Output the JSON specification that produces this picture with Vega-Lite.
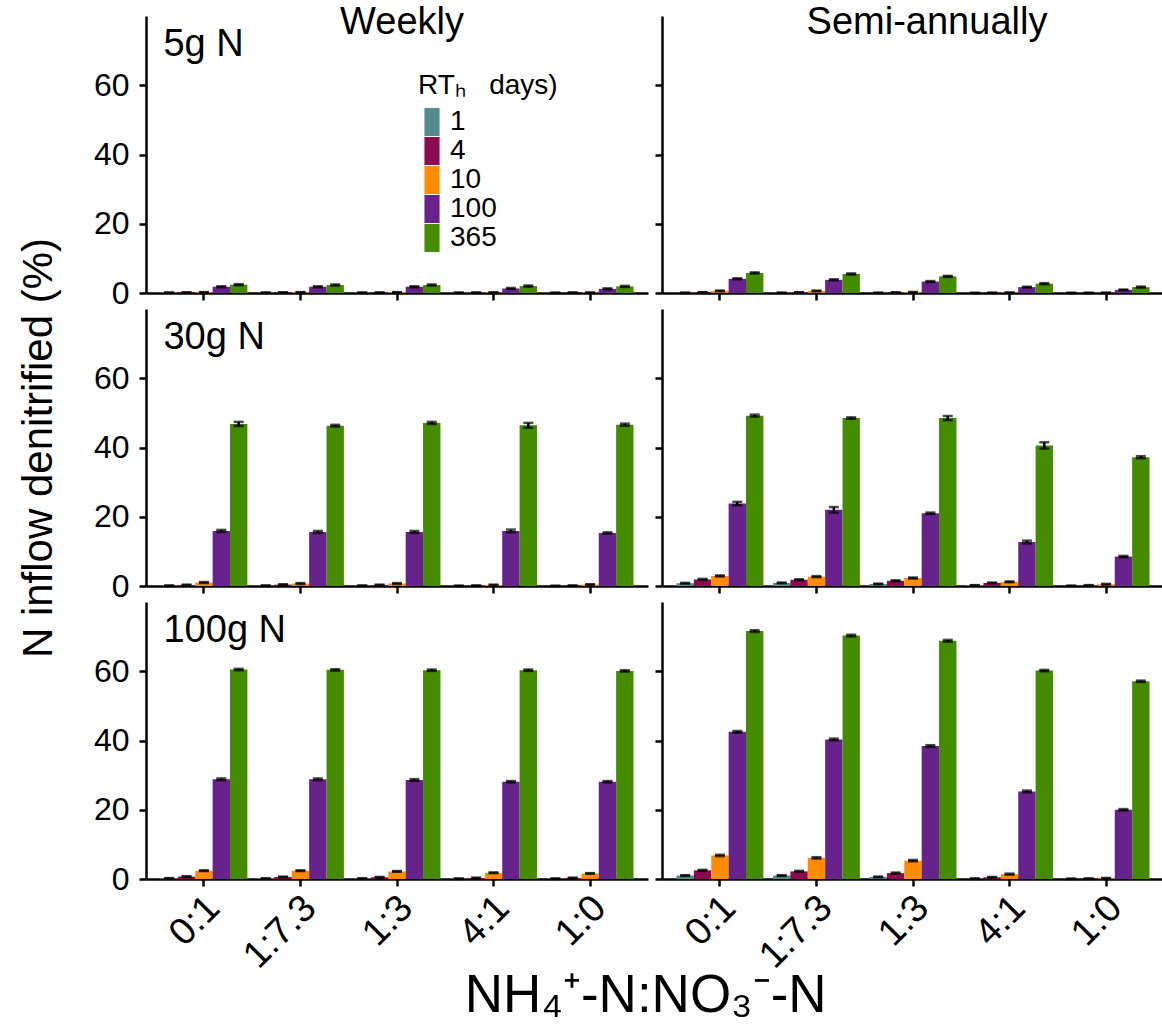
{
  "$schema": "https://vega.github.io/schema/vega-lite/v6.json",
  "padding": {"left": 17, "top": 4, "right": 0, "bottom": 0},
  "background": "white",
  "bounds": "flush",
  "title": {"text": "NH₄⁺-N:NO₃⁻-N", "orient": "bottom", "anchor": "middle", "fontSize": 53, "fontWeight": "normal", "font": "Liberation Sans", "color": "black", "offset": -5, "dx": 55},
  "data": {"values": [
    {"load":"5g N","freq":"Weekly","ratio":"0:1","rt":1,"value":0.1,"err":0.03},
    {"load":"5g N","freq":"Weekly","ratio":"0:1","rt":4,"value":0.15,"err":0.05},
    {"load":"5g N","freq":"Weekly","ratio":"0:1","rt":10,"value":0.2,"err":0.05},
    {"load":"5g N","freq":"Weekly","ratio":"0:1","rt":100,"value":1.8,"err":0.15},
    {"load":"5g N","freq":"Weekly","ratio":"0:1","rt":365,"value":2.4,"err":0.15},
    {"load":"5g N","freq":"Weekly","ratio":"1:7.3","rt":1,"value":0.1,"err":0.03},
    {"load":"5g N","freq":"Weekly","ratio":"1:7.3","rt":4,"value":0.15,"err":0.05},
    {"load":"5g N","freq":"Weekly","ratio":"1:7.3","rt":10,"value":0.2,"err":0.05},
    {"load":"5g N","freq":"Weekly","ratio":"1:7.3","rt":100,"value":1.8,"err":0.15},
    {"load":"5g N","freq":"Weekly","ratio":"1:7.3","rt":365,"value":2.3,"err":0.15},
    {"load":"5g N","freq":"Weekly","ratio":"1:3","rt":1,"value":0.1,"err":0.03},
    {"load":"5g N","freq":"Weekly","ratio":"1:3","rt":4,"value":0.12,"err":0.05},
    {"load":"5g N","freq":"Weekly","ratio":"1:3","rt":10,"value":0.2,"err":0.05},
    {"load":"5g N","freq":"Weekly","ratio":"1:3","rt":100,"value":1.8,"err":0.15},
    {"load":"5g N","freq":"Weekly","ratio":"1:3","rt":365,"value":2.3,"err":0.15},
    {"load":"5g N","freq":"Weekly","ratio":"4:1","rt":1,"value":0.08,"err":0.03},
    {"load":"5g N","freq":"Weekly","ratio":"4:1","rt":4,"value":0.1,"err":0.05},
    {"load":"5g N","freq":"Weekly","ratio":"4:1","rt":10,"value":0.15,"err":0.05},
    {"load":"5g N","freq":"Weekly","ratio":"4:1","rt":100,"value":1.3,"err":0.15},
    {"load":"5g N","freq":"Weekly","ratio":"4:1","rt":365,"value":2.0,"err":0.15},
    {"load":"5g N","freq":"Weekly","ratio":"1:0","rt":1,"value":0.05,"err":0.03},
    {"load":"5g N","freq":"Weekly","ratio":"1:0","rt":4,"value":0.1,"err":0.05},
    {"load":"5g N","freq":"Weekly","ratio":"1:0","rt":10,"value":0.1,"err":0.05},
    {"load":"5g N","freq":"Weekly","ratio":"1:0","rt":100,"value":1.2,"err":0.15},
    {"load":"5g N","freq":"Weekly","ratio":"1:0","rt":365,"value":1.9,"err":0.15},
    {"load":"5g N","freq":"Semi-annually","ratio":"0:1","rt":1,"value":0.05,"err":0.02},
    {"load":"5g N","freq":"Semi-annually","ratio":"0:1","rt":4,"value":0.2,"err":0.05},
    {"load":"5g N","freq":"Semi-annually","ratio":"0:1","rt":10,"value":0.6,"err":0.1},
    {"load":"5g N","freq":"Semi-annually","ratio":"0:1","rt":100,"value":4.1,"err":0.15},
    {"load":"5g N","freq":"Semi-annually","ratio":"0:1","rt":365,"value":5.8,"err":0.15},
    {"load":"5g N","freq":"Semi-annually","ratio":"1:7.3","rt":1,"value":0.05,"err":0.02},
    {"load":"5g N","freq":"Semi-annually","ratio":"1:7.3","rt":4,"value":0.2,"err":0.05},
    {"load":"5g N","freq":"Semi-annually","ratio":"1:7.3","rt":10,"value":0.6,"err":0.1},
    {"load":"5g N","freq":"Semi-annually","ratio":"1:7.3","rt":100,"value":3.8,"err":0.15},
    {"load":"5g N","freq":"Semi-annually","ratio":"1:7.3","rt":365,"value":5.5,"err":0.15},
    {"load":"5g N","freq":"Semi-annually","ratio":"1:3","rt":1,"value":0.05,"err":0.02},
    {"load":"5g N","freq":"Semi-annually","ratio":"1:3","rt":4,"value":0.15,"err":0.05},
    {"load":"5g N","freq":"Semi-annually","ratio":"1:3","rt":10,"value":0.2,"err":0.1},
    {"load":"5g N","freq":"Semi-annually","ratio":"1:3","rt":100,"value":3.3,"err":0.15},
    {"load":"5g N","freq":"Semi-annually","ratio":"1:3","rt":365,"value":4.8,"err":0.15},
    {"load":"5g N","freq":"Semi-annually","ratio":"4:1","rt":1,"value":0.02,"err":0.02},
    {"load":"5g N","freq":"Semi-annually","ratio":"4:1","rt":4,"value":0.05,"err":0.03},
    {"load":"5g N","freq":"Semi-annually","ratio":"4:1","rt":10,"value":0.1,"err":0.05},
    {"load":"5g N","freq":"Semi-annually","ratio":"4:1","rt":100,"value":1.7,"err":0.1},
    {"load":"5g N","freq":"Semi-annually","ratio":"4:1","rt":365,"value":2.7,"err":0.15},
    {"load":"5g N","freq":"Semi-annually","ratio":"1:0","rt":1,"value":0.02,"err":0.02},
    {"load":"5g N","freq":"Semi-annually","ratio":"1:0","rt":4,"value":0.03,"err":0.02},
    {"load":"5g N","freq":"Semi-annually","ratio":"1:0","rt":10,"value":0.05,"err":0.03},
    {"load":"5g N","freq":"Semi-annually","ratio":"1:0","rt":100,"value":0.9,"err":0.1},
    {"load":"5g N","freq":"Semi-annually","ratio":"1:0","rt":365,"value":1.7,"err":0.15},
    {"load":"30g N","freq":"Weekly","ratio":"0:1","rt":1,"value":0.1,"err":0.05},
    {"load":"30g N","freq":"Weekly","ratio":"0:1","rt":4,"value":0.3,"err":0.1},
    {"load":"30g N","freq":"Weekly","ratio":"0:1","rt":10,"value":1.0,"err":0.15},
    {"load":"30g N","freq":"Weekly","ratio":"0:1","rt":100,"value":15.9,"err":0.3},
    {"load":"30g N","freq":"Weekly","ratio":"0:1","rt":365,"value":46.8,"err":0.6},
    {"load":"30g N","freq":"Weekly","ratio":"1:7.3","rt":1,"value":0.1,"err":0.05},
    {"load":"30g N","freq":"Weekly","ratio":"1:7.3","rt":4,"value":0.4,"err":0.1},
    {"load":"30g N","freq":"Weekly","ratio":"1:7.3","rt":10,"value":0.7,"err":0.15},
    {"load":"30g N","freq":"Weekly","ratio":"1:7.3","rt":100,"value":15.6,"err":0.3},
    {"load":"30g N","freq":"Weekly","ratio":"1:7.3","rt":365,"value":46.3,"err":0.25},
    {"load":"30g N","freq":"Weekly","ratio":"1:3","rt":1,"value":0.1,"err":0.05},
    {"load":"30g N","freq":"Weekly","ratio":"1:3","rt":4,"value":0.3,"err":0.1},
    {"load":"30g N","freq":"Weekly","ratio":"1:3","rt":10,"value":0.7,"err":0.15},
    {"load":"30g N","freq":"Weekly","ratio":"1:3","rt":100,"value":15.6,"err":0.3},
    {"load":"30g N","freq":"Weekly","ratio":"1:3","rt":365,"value":47.1,"err":0.3},
    {"load":"30g N","freq":"Weekly","ratio":"4:1","rt":1,"value":0.05,"err":0.05},
    {"load":"30g N","freq":"Weekly","ratio":"4:1","rt":4,"value":0.1,"err":0.05},
    {"load":"30g N","freq":"Weekly","ratio":"4:1","rt":10,"value":0.3,"err":0.1},
    {"load":"30g N","freq":"Weekly","ratio":"4:1","rt":100,"value":15.9,"err":0.4},
    {"load":"30g N","freq":"Weekly","ratio":"4:1","rt":365,"value":46.4,"err":0.7},
    {"load":"30g N","freq":"Weekly","ratio":"1:0","rt":1,"value":0.03,"err":0.03},
    {"load":"30g N","freq":"Weekly","ratio":"1:0","rt":4,"value":0.1,"err":0.05},
    {"load":"30g N","freq":"Weekly","ratio":"1:0","rt":10,"value":0.4,"err":0.1},
    {"load":"30g N","freq":"Weekly","ratio":"1:0","rt":100,"value":15.3,"err":0.2},
    {"load":"30g N","freq":"Weekly","ratio":"1:0","rt":365,"value":46.6,"err":0.3},
    {"load":"30g N","freq":"Semi-annually","ratio":"0:1","rt":1,"value":0.8,"err":0.1},
    {"load":"30g N","freq":"Semi-annually","ratio":"0:1","rt":4,"value":1.9,"err":0.15},
    {"load":"30g N","freq":"Semi-annually","ratio":"0:1","rt":10,"value":2.9,"err":0.15},
    {"load":"30g N","freq":"Semi-annually","ratio":"0:1","rt":100,"value":23.8,"err":0.5},
    {"load":"30g N","freq":"Semi-annually","ratio":"0:1","rt":365,"value":49.2,"err":0.3},
    {"load":"30g N","freq":"Semi-annually","ratio":"1:7.3","rt":1,"value":0.9,"err":0.1},
    {"load":"30g N","freq":"Semi-annually","ratio":"1:7.3","rt":4,"value":1.8,"err":0.15},
    {"load":"30g N","freq":"Semi-annually","ratio":"1:7.3","rt":10,"value":2.7,"err":0.15},
    {"load":"30g N","freq":"Semi-annually","ratio":"1:7.3","rt":100,"value":22.0,"err":0.8},
    {"load":"30g N","freq":"Semi-annually","ratio":"1:7.3","rt":365,"value":48.5,"err":0.2},
    {"load":"30g N","freq":"Semi-annually","ratio":"1:3","rt":1,"value":0.6,"err":0.1},
    {"load":"30g N","freq":"Semi-annually","ratio":"1:3","rt":4,"value":1.5,"err":0.15},
    {"load":"30g N","freq":"Semi-annually","ratio":"1:3","rt":10,"value":2.3,"err":0.15},
    {"load":"30g N","freq":"Semi-annually","ratio":"1:3","rt":100,"value":21.0,"err":0.2},
    {"load":"30g N","freq":"Semi-annually","ratio":"1:3","rt":365,"value":48.5,"err":0.6},
    {"load":"30g N","freq":"Semi-annually","ratio":"4:1","rt":1,"value":0.2,"err":0.05},
    {"load":"30g N","freq":"Semi-annually","ratio":"4:1","rt":4,"value":0.9,"err":0.1},
    {"load":"30g N","freq":"Semi-annually","ratio":"4:1","rt":10,"value":1.2,"err":0.1},
    {"load":"30g N","freq":"Semi-annually","ratio":"4:1","rt":100,"value":12.7,"err":0.4},
    {"load":"30g N","freq":"Semi-annually","ratio":"4:1","rt":365,"value":40.6,"err":0.9},
    {"load":"30g N","freq":"Semi-annually","ratio":"1:0","rt":1,"value":0.05,"err":0.03},
    {"load":"30g N","freq":"Semi-annually","ratio":"1:0","rt":4,"value":0.2,"err":0.05},
    {"load":"30g N","freq":"Semi-annually","ratio":"1:0","rt":10,"value":0.5,"err":0.1},
    {"load":"30g N","freq":"Semi-annually","ratio":"1:0","rt":100,"value":8.5,"err":0.2},
    {"load":"30g N","freq":"Semi-annually","ratio":"1:0","rt":365,"value":37.2,"err":0.3},
    {"load":"100g N","freq":"Weekly","ratio":"0:1","rt":1,"value":0.2,"err":0.05},
    {"load":"100g N","freq":"Weekly","ratio":"0:1","rt":4,"value":0.7,"err":0.1},
    {"load":"100g N","freq":"Weekly","ratio":"0:1","rt":10,"value":2.4,"err":0.1},
    {"load":"100g N","freq":"Weekly","ratio":"0:1","rt":100,"value":28.8,"err":0.25},
    {"load":"100g N","freq":"Weekly","ratio":"0:1","rt":365,"value":60.5,"err":0.2},
    {"load":"100g N","freq":"Weekly","ratio":"1:7.3","rt":1,"value":0.15,"err":0.05},
    {"load":"100g N","freq":"Weekly","ratio":"1:7.3","rt":4,"value":0.6,"err":0.1},
    {"load":"100g N","freq":"Weekly","ratio":"1:7.3","rt":10,"value":2.4,"err":0.1},
    {"load":"100g N","freq":"Weekly","ratio":"1:7.3","rt":100,"value":28.8,"err":0.25},
    {"load":"100g N","freq":"Weekly","ratio":"1:7.3","rt":365,"value":60.4,"err":0.2},
    {"load":"100g N","freq":"Weekly","ratio":"1:3","rt":1,"value":0.15,"err":0.05},
    {"load":"100g N","freq":"Weekly","ratio":"1:3","rt":4,"value":0.5,"err":0.1},
    {"load":"100g N","freq":"Weekly","ratio":"1:3","rt":10,"value":2.2,"err":0.1},
    {"load":"100g N","freq":"Weekly","ratio":"1:3","rt":100,"value":28.6,"err":0.25},
    {"load":"100g N","freq":"Weekly","ratio":"1:3","rt":365,"value":60.3,"err":0.2},
    {"load":"100g N","freq":"Weekly","ratio":"4:1","rt":1,"value":0.1,"err":0.05},
    {"load":"100g N","freq":"Weekly","ratio":"4:1","rt":4,"value":0.3,"err":0.1},
    {"load":"100g N","freq":"Weekly","ratio":"4:1","rt":10,"value":1.8,"err":0.1},
    {"load":"100g N","freq":"Weekly","ratio":"4:1","rt":100,"value":28.1,"err":0.2},
    {"load":"100g N","freq":"Weekly","ratio":"4:1","rt":365,"value":60.3,"err":0.2},
    {"load":"100g N","freq":"Weekly","ratio":"1:0","rt":1,"value":0.1,"err":0.05},
    {"load":"100g N","freq":"Weekly","ratio":"1:0","rt":4,"value":0.3,"err":0.1},
    {"load":"100g N","freq":"Weekly","ratio":"1:0","rt":10,"value":1.6,"err":0.1},
    {"load":"100g N","freq":"Weekly","ratio":"1:0","rt":100,"value":28.1,"err":0.2},
    {"load":"100g N","freq":"Weekly","ratio":"1:0","rt":365,"value":60.1,"err":0.2},
    {"load":"100g N","freq":"Semi-annually","ratio":"0:1","rt":1,"value":1.0,"err":0.1},
    {"load":"100g N","freq":"Semi-annually","ratio":"0:1","rt":4,"value":2.5,"err":0.15},
    {"load":"100g N","freq":"Semi-annually","ratio":"0:1","rt":10,"value":6.8,"err":0.2},
    {"load":"100g N","freq":"Semi-annually","ratio":"0:1","rt":100,"value":42.5,"err":0.25},
    {"load":"100g N","freq":"Semi-annually","ratio":"0:1","rt":365,"value":71.6,"err":0.25},
    {"load":"100g N","freq":"Semi-annually","ratio":"1:7.3","rt":1,"value":1.0,"err":0.1},
    {"load":"100g N","freq":"Semi-annually","ratio":"1:7.3","rt":4,"value":2.2,"err":0.15},
    {"load":"100g N","freq":"Semi-annually","ratio":"1:7.3","rt":10,"value":6.1,"err":0.2},
    {"load":"100g N","freq":"Semi-annually","ratio":"1:7.3","rt":100,"value":40.3,"err":0.25},
    {"load":"100g N","freq":"Semi-annually","ratio":"1:7.3","rt":365,"value":70.3,"err":0.25},
    {"load":"100g N","freq":"Semi-annually","ratio":"1:3","rt":1,"value":0.6,"err":0.1},
    {"load":"100g N","freq":"Semi-annually","ratio":"1:3","rt":4,"value":1.7,"err":0.15},
    {"load":"100g N","freq":"Semi-annually","ratio":"1:3","rt":10,"value":5.3,"err":0.2},
    {"load":"100g N","freq":"Semi-annually","ratio":"1:3","rt":100,"value":38.4,"err":0.25},
    {"load":"100g N","freq":"Semi-annually","ratio":"1:3","rt":365,"value":68.8,"err":0.25},
    {"load":"100g N","freq":"Semi-annually","ratio":"4:1","rt":1,"value":0.1,"err":0.05},
    {"load":"100g N","freq":"Semi-annually","ratio":"4:1","rt":4,"value":0.5,"err":0.1},
    {"load":"100g N","freq":"Semi-annually","ratio":"4:1","rt":10,"value":1.4,"err":0.15},
    {"load":"100g N","freq":"Semi-annually","ratio":"4:1","rt":100,"value":25.3,"err":0.25},
    {"load":"100g N","freq":"Semi-annually","ratio":"4:1","rt":365,"value":60.2,"err":0.2},
    {"load":"100g N","freq":"Semi-annually","ratio":"1:0","rt":1,"value":0.05,"err":0.03},
    {"load":"100g N","freq":"Semi-annually","ratio":"1:0","rt":4,"value":0.1,"err":0.05},
    {"load":"100g N","freq":"Semi-annually","ratio":"1:0","rt":10,"value":0.2,"err":0.1},
    {"load":"100g N","freq":"Semi-annually","ratio":"1:0","rt":100,"value":20.0,"err":0.2},
    {"load":"100g N","freq":"Semi-annually","ratio":"1:0","rt":365,"value":57.1,"err":0.2}
  ]},
  "columns": 2,
  "spacing": {"row": 16, "column": 14},
  "concat": [
    {
      "width": 502, "height": 277,
      "title": {"text": "Weekly", "fontSize": 38, "fontWeight": "normal", "font": "Liberation Sans", "color": "black", "baseline": "alphabetic", "offset": -13, "dy": 43, "dx": 5},
      "transform": [{"filter": "datum.load === '5g N' && datum.freq === 'Weekly'"}],
      "encoding": {
        "x": {"field": "ratio", "type": "nominal", "sort": ["0:1","1:7.3","1:3","4:1","1:0"], "scale": {"paddingInner": 0.1, "paddingOuter": 0.15}, "axis": {"title": null, "labels": false}},
        "y": {"field": "value", "type": "quantitative", "scale": {"domain": [0, 80], "nice": false}, "axis": {"values": [0, 20, 40, 60], "title": null}}
      },
      "layer": [
        {"mark": {"type": "bar"}, "encoding": {"xOffset": {"field": "rt", "type": "ordinal", "sort": [1,4,10,100,365], "scale": {"paddingInner": 0, "paddingOuter": 0}}, "color": {"field": "rt", "type": "ordinal", "scale": {"domain": [1,4,10,100,365], "range": ["#528B8B","#8B0A50","#FF8C00","#68228B","#458B00"]}, "legend": {"title": "RTₕ\u00a0\u00a0\u00a0days)", "orient": "none", "legendX": 272, "legendY": 56}}}},
        {"mark": {"type": "errorbar", "ticks": {"size": 10}, "thickness": 2.5, "color": "black"}, "encoding": {"xOffset": {"field": "rt", "type": "ordinal", "sort": [1,4,10,100,365], "scale": {"paddingInner": 0, "paddingOuter": 0}}, "yError": {"field": "err"}}},
        {"transform": [{"filter": "datum.rt === 1 && datum.ratio === '0:1'"}], "mark": {"type": "text", "align": "left", "baseline": "middle", "dx": 3, "fontSize": 38, "font": "Liberation Sans", "color": "black"}, "encoding": {"x": {"field": "ratio", "type": "nominal", "sort": ["0:1","1:7.3","1:3","4:1","1:0"], "bandPosition": 0}, "y": {"datum": 71.5}, "text": {"field": "load"}}}
      ]
    },
    {
      "width": 502, "height": 277,
      "title": {"text": "Semi-annually", "fontSize": 38, "fontWeight": "normal", "font": "Liberation Sans", "color": "black", "baseline": "alphabetic", "offset": -13, "dy": 43, "dx": 14},
      "transform": [{"filter": "datum.load === '5g N' && datum.freq === 'Semi-annually'"}],
      "encoding": {
        "x": {"field": "ratio", "type": "nominal", "sort": ["0:1","1:7.3","1:3","4:1","1:0"], "scale": {"paddingInner": 0.1, "paddingOuter": 0.15}, "axis": {"title": null, "labels": false}},
        "y": {"field": "value", "type": "quantitative", "scale": {"domain": [0, 80], "nice": false}, "axis": {"values": [0, 20, 40, 60], "title": null, "labels": false}}
      },
      "layer": [
        {"mark": {"type": "bar"}, "encoding": {"xOffset": {"field": "rt", "type": "ordinal", "sort": [1,4,10,100,365], "scale": {"paddingInner": 0, "paddingOuter": 0}}, "color": {"field": "rt", "type": "ordinal", "scale": {"domain": [1,4,10,100,365], "range": ["#528B8B","#8B0A50","#FF8C00","#68228B","#458B00"]}, "legend": {"title": "RTₕ\u00a0\u00a0\u00a0days)", "orient": "none", "legendX": 272, "legendY": 56}}}},
        {"mark": {"type": "errorbar", "ticks": {"size": 10}, "thickness": 2.5, "color": "black"}, "encoding": {"xOffset": {"field": "rt", "type": "ordinal", "sort": [1,4,10,100,365], "scale": {"paddingInner": 0, "paddingOuter": 0}}, "yError": {"field": "err"}}}
      ]
    },
    {
      "width": 502, "height": 277,
      "transform": [{"filter": "datum.load === '30g N' && datum.freq === 'Weekly'"}],
      "encoding": {
        "x": {"field": "ratio", "type": "nominal", "sort": ["0:1","1:7.3","1:3","4:1","1:0"], "scale": {"paddingInner": 0.1, "paddingOuter": 0.15}, "axis": {"title": null, "labels": false}},
        "y": {"field": "value", "type": "quantitative", "scale": {"domain": [0, 80], "nice": false}, "axis": {"values": [0, 20, 40, 60], "title": "N inflow denitrified (%)"}}
      },
      "layer": [
        {"mark": {"type": "bar"}, "encoding": {"xOffset": {"field": "rt", "type": "ordinal", "sort": [1,4,10,100,365], "scale": {"paddingInner": 0, "paddingOuter": 0}}, "color": {"field": "rt", "type": "ordinal", "scale": {"domain": [1,4,10,100,365], "range": ["#528B8B","#8B0A50","#FF8C00","#68228B","#458B00"]}, "legend": {"title": "RTₕ\u00a0\u00a0\u00a0days)", "orient": "none", "legendX": 272, "legendY": 56}}}},
        {"mark": {"type": "errorbar", "ticks": {"size": 10}, "thickness": 2.5, "color": "black"}, "encoding": {"xOffset": {"field": "rt", "type": "ordinal", "sort": [1,4,10,100,365], "scale": {"paddingInner": 0, "paddingOuter": 0}}, "yError": {"field": "err"}}},
        {"transform": [{"filter": "datum.rt === 1 && datum.ratio === '0:1'"}], "mark": {"type": "text", "align": "left", "baseline": "middle", "dx": 3, "fontSize": 38, "font": "Liberation Sans", "color": "black"}, "encoding": {"x": {"field": "ratio", "type": "nominal", "sort": ["0:1","1:7.3","1:3","4:1","1:0"], "bandPosition": 0}, "y": {"datum": 71.5}, "text": {"field": "load"}}}
      ]
    },
    {
      "width": 502, "height": 277,
      "transform": [{"filter": "datum.load === '30g N' && datum.freq === 'Semi-annually'"}],
      "encoding": {
        "x": {"field": "ratio", "type": "nominal", "sort": ["0:1","1:7.3","1:3","4:1","1:0"], "scale": {"paddingInner": 0.1, "paddingOuter": 0.15}, "axis": {"title": null, "labels": false}},
        "y": {"field": "value", "type": "quantitative", "scale": {"domain": [0, 80], "nice": false}, "axis": {"values": [0, 20, 40, 60], "title": null, "labels": false}}
      },
      "layer": [
        {"mark": {"type": "bar"}, "encoding": {"xOffset": {"field": "rt", "type": "ordinal", "sort": [1,4,10,100,365], "scale": {"paddingInner": 0, "paddingOuter": 0}}, "color": {"field": "rt", "type": "ordinal", "scale": {"domain": [1,4,10,100,365], "range": ["#528B8B","#8B0A50","#FF8C00","#68228B","#458B00"]}, "legend": {"title": "RTₕ\u00a0\u00a0\u00a0days)", "orient": "none", "legendX": 272, "legendY": 56}}}},
        {"mark": {"type": "errorbar", "ticks": {"size": 10}, "thickness": 2.5, "color": "black"}, "encoding": {"xOffset": {"field": "rt", "type": "ordinal", "sort": [1,4,10,100,365], "scale": {"paddingInner": 0, "paddingOuter": 0}}, "yError": {"field": "err"}}}
      ]
    },
    {
      "width": 502, "height": 277,
      "transform": [{"filter": "datum.load === '100g N' && datum.freq === 'Weekly'"}],
      "encoding": {
        "x": {"field": "ratio", "type": "nominal", "sort": ["0:1","1:7.3","1:3","4:1","1:0"], "scale": {"paddingInner": 0.1, "paddingOuter": 0.15}, "axis": {"title": null}},
        "y": {"field": "value", "type": "quantitative", "scale": {"domain": [0, 80], "nice": false}, "axis": {"values": [0, 20, 40, 60], "title": null}}
      },
      "layer": [
        {"mark": {"type": "bar"}, "encoding": {"xOffset": {"field": "rt", "type": "ordinal", "sort": [1,4,10,100,365], "scale": {"paddingInner": 0, "paddingOuter": 0}}, "color": {"field": "rt", "type": "ordinal", "scale": {"domain": [1,4,10,100,365], "range": ["#528B8B","#8B0A50","#FF8C00","#68228B","#458B00"]}, "legend": {"title": "RTₕ\u00a0\u00a0\u00a0days)", "orient": "none", "legendX": 272, "legendY": 56}}}},
        {"mark": {"type": "errorbar", "ticks": {"size": 10}, "thickness": 2.5, "color": "black"}, "encoding": {"xOffset": {"field": "rt", "type": "ordinal", "sort": [1,4,10,100,365], "scale": {"paddingInner": 0, "paddingOuter": 0}}, "yError": {"field": "err"}}},
        {"transform": [{"filter": "datum.rt === 1 && datum.ratio === '0:1'"}], "mark": {"type": "text", "align": "left", "baseline": "middle", "dx": 3, "fontSize": 38, "font": "Liberation Sans", "color": "black"}, "encoding": {"x": {"field": "ratio", "type": "nominal", "sort": ["0:1","1:7.3","1:3","4:1","1:0"], "bandPosition": 0}, "y": {"datum": 71.5}, "text": {"field": "load"}}}
      ]
    },
    {
      "width": 502, "height": 277,
      "transform": [{"filter": "datum.load === '100g N' && datum.freq === 'Semi-annually'"}],
      "encoding": {
        "x": {"field": "ratio", "type": "nominal", "sort": ["0:1","1:7.3","1:3","4:1","1:0"], "scale": {"paddingInner": 0.1, "paddingOuter": 0.15}, "axis": {"title": null}},
        "y": {"field": "value", "type": "quantitative", "scale": {"domain": [0, 80], "nice": false}, "axis": {"values": [0, 20, 40, 60], "title": null, "labels": false}}
      },
      "layer": [
        {"mark": {"type": "bar"}, "encoding": {"xOffset": {"field": "rt", "type": "ordinal", "sort": [1,4,10,100,365], "scale": {"paddingInner": 0, "paddingOuter": 0}}, "color": {"field": "rt", "type": "ordinal", "scale": {"domain": [1,4,10,100,365], "range": ["#528B8B","#8B0A50","#FF8C00","#68228B","#458B00"]}, "legend": {"title": "RTₕ\u00a0\u00a0\u00a0days)", "orient": "none", "legendX": 272, "legendY": 56}}}},
        {"mark": {"type": "errorbar", "ticks": {"size": 10}, "thickness": 2.5, "color": "black"}, "encoding": {"xOffset": {"field": "rt", "type": "ordinal", "sort": [1,4,10,100,365], "scale": {"paddingInner": 0, "paddingOuter": 0}}, "yError": {"field": "err"}}}
      ]
    }
  ],
  "config": {
    "view": {"stroke": null},
    "axis": {"domainColor": "black", "domainWidth": 2.5, "tickColor": "black", "tickWidth": 2.5, "tickSize": 7, "labelFont": "Liberation Sans", "labelFontSize": 32, "labelColor": "black", "labelPadding": 10, "grid": false, "titleFont": "Liberation Sans", "titleFontSize": 42, "titleFontWeight": "normal", "titleColor": "black", "titlePadding": 33},
    "axisX": {"labelAngle": -45, "labelAlign": "right", "labelBaseline": "middle", "labelOffset": 10, "labelPadding": 16, "labelFontSize": 38},
    "legend": {"symbolType": "M-0.54,-1H0.54V1H-0.54Z", "symbolSize": 784, "symbolStrokeWidth": 0, "symbolOpacity": 1, "labelFont": "Liberation Sans", "labelFontSize": 28, "labelColor": "black", "labelOffset": 4, "rowPadding": 1, "titleFont": "Liberation Sans", "titleFontSize": 28, "titleFontWeight": "normal", "titleColor": "black", "titlePadding": 8}
  }
}
